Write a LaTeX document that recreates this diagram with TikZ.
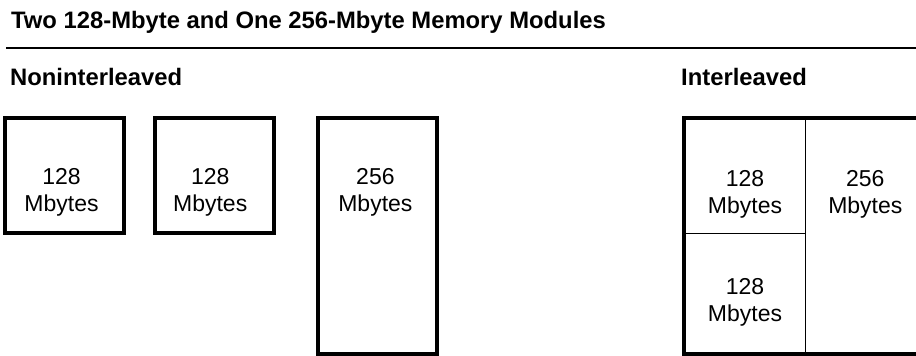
\documentclass[tikz,border=0pt]{standalone}
\usepackage{fontspec}
\setmainfont{Liberation Sans}
\usetikzlibrary{positioning}

\begin{document}
\begin{tikzpicture}[
  x=1pt, y=-1pt,
  node distance=30pt,
  modbox/.style={draw, line width=4pt, outer sep=0pt, inner sep=0pt, minimum width=119pt, minimum height=115pt},
  cellbox/.style={draw, line width=1.3pt, outer sep=0pt, inner sep=0pt},
  sizetext/.style={align=center, inner sep=0pt, font=\fontsize{23}{27}\selectfont},
  heading/.style={anchor=base west, inner sep=0pt, font=\bfseries\fontsize{23.8}{28}\selectfont}
]
\useasboundingbox (0,0) rectangle (916,356);
\clip (0,0) rectangle (916,356);

% headings
\node[heading] (title) at (11,28.5) {Two 128-Mbyte and One 256-Mbyte Memory Modules};
\draw[line width=1.5pt] (6,47.8) -- (916,47.8);
\node[heading] (nonil) at (10,85) {Noninterleaved};
\node[heading] (il) at (681,85) {Interleaved};

% noninterleaved modules
\node[modbox, anchor=north west] (b1) at (5,117.5) {};
\node[modbox, right=30.7pt of b1] (b2) {};
\node[modbox, minimum height=236pt, right=44.2pt of b2.north east, anchor=north west] (b3) {};
\node[sizetext, below=51pt of b1.north, xshift=-3pt] (t1) {128\\Mbytes};
\node[sizetext, below=51pt of b2.north, xshift=-4pt] (t2) {128\\Mbytes};
\node[sizetext, below=51pt of b3.north, xshift=-2pt] (t3) {256\\Mbytes};

% interleaved modules
\node[cellbox, anchor=north west, minimum width=121.4pt, minimum height=115.7pt] (c1) at (684.3,118) {};
\node[cellbox, anchor=north west, minimum width=121.4pt, minimum height=120.3pt] (c2) at (c1.south west) {};
\node[cellbox, anchor=north west, minimum width=119.3pt, minimum height=236pt] (c3) at (c1.north east) {};
\draw[line width=4pt] (c1.north west) rectangle (c3.south east);
\node[sizetext, below=52pt of c1.north] (t4) {128\\Mbytes};
\node[sizetext, below=44.5pt of c2.north] (t5) {128\\Mbytes};
\node[sizetext, below=52pt of c3.north] (t6) {256\\Mbytes};
\end{tikzpicture}
\end{document}
